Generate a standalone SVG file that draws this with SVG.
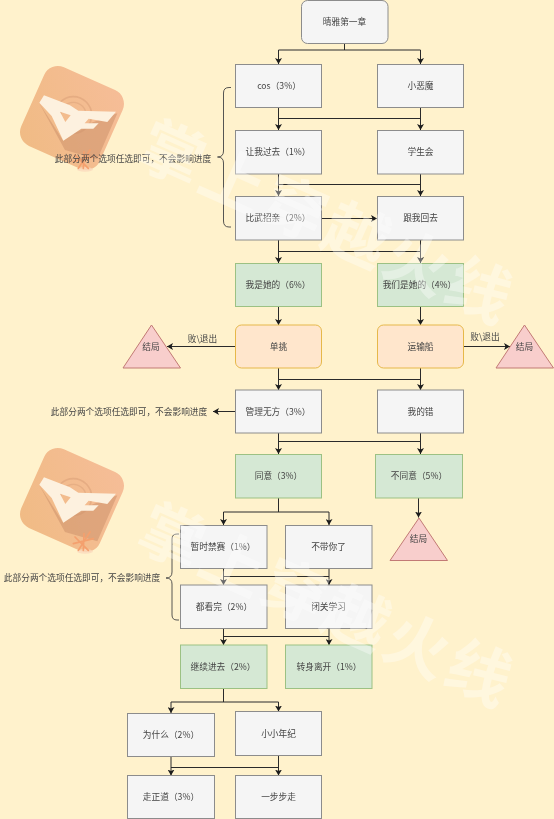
<svg xmlns="http://www.w3.org/2000/svg" width="554" height="819" viewBox="0 0 554 819">
<style>
text{font-family:"Noto Sans CJK SC","Noto Sans",sans-serif;font-size:8.7px;fill:#444;text-anchor:middle}
.n{fill:#f5f5f5;stroke:#8c8c8c;stroke-width:1}
.g{fill:#d5e8d4;stroke:#9cc183;stroke-width:1}
.o{fill:#ffe6cc;stroke:#e6b84a;stroke-width:1}
.t{fill:#f8cecc;stroke:#c27a74;stroke-width:1}
.c{fill:none;stroke:#2b2b2b;stroke-width:1}
.a{marker-end:url(#arrow)}
.b{fill:none;stroke:#444;stroke-width:.9}
.w{font-size:64px;font-weight:700;fill:#fff;fill-opacity:.36}
</style>
<defs>
<marker id="arrow" markerUnits="userSpaceOnUse" markerWidth="7" markerHeight="7" refX="6" refY="3.500" orient="auto"><path d="M0 0L6 3.500L0 7L1.500 3.500Z" fill="#1a1a1a"/></marker>
<linearGradient id="lg" x1="0" y1="1" x2="1" y2="0"><stop offset="0" stop-color="#f0bb84"/><stop offset="1" stop-color="#f6bd98"/></linearGradient>
<filter id="soft" x="0" y="0" width="554" height="819" filterUnits="userSpaceOnUse"><feGaussianBlur stdDeviation="0.3"/></filter>
<g id="logo">
<rect x="29" y="75" width="86" height="86" rx="15" fill="url(#lg)" transform="rotate(24 72 118)"/>
<g transform="translate(10 60) scale(.3333)">
<circle cx="190" cy="165" r="55" fill="none" stroke="#dca27a" stroke-width="5" opacity=".6"/>
<circle cx="190" cy="165" r="38" fill="none" stroke="#dca27a" stroke-width="4" opacity=".5"/>
<path d="M88 130L165 270L262 298L322 160L200 205L160 242Z" fill="#c98e68" opacity=".5"/>
<path d="M88 128L102 106L180 136L205 152L318 155L292 186L236 176L224 190L266 190L250 206L214 206L160 242L125 168ZM150 155L166 186L182 166Z" fill="#fdf1df" fill-rule="evenodd"/>
<ellipse cx="225" cy="328" rx="24" ry="7" fill="#fbd9bd" opacity=".8"/>
<path d="M195 285L235 325M240 270L205 325M190 305L250 290M222 275L220 325" stroke="#f4a06e" stroke-width="5" fill="none" stroke-linecap="round"/>
</g>
</g>
</defs>
<g filter="url(#soft)">
<rect width="554" height="819" fill="#fff2cc"/>
<use href="#logo"/>
<use href="#logo" y="382"/>
<g id="connectors">
<path class="c" d="M344.500 43.500V50M278.500 50H420.500"/>
<path class="c a" d="M278.500 50V64"/><path class="c a" d="M420.500 50V64"/>
<path class="c" d="M278.500 118.500H420.500"/>
<path class="c a" d="M278.500 107.500V130"/><path class="c a" d="M420.500 107.500V130"/>
<path class="c" d="M278.500 184.500H420.500"/>
<path class="c a" d="M278.500 174V196"/><path class="c a" d="M420.500 174V196"/>
<path class="c a" d="M321.500 218.500H377"/>
<path class="c" d="M278.500 251.500H420.500"/>
<path class="c a" d="M278.500 240V263"/><path class="c a" d="M420.500 240V263"/>
<path class="c a" d="M278.500 306.500V325"/><path class="c a" d="M420.500 306.500V325"/>
<path class="c a" d="M235.500 346.500H167"/>
<path class="c a" d="M463.500 346.500H510"/>
<path class="c" d="M278.500 379.500H420.500"/>
<path class="c a" d="M278.500 368V390"/><path class="c a" d="M420.500 368V390"/>
<path class="c a" d="M235.500 411.500H213"/>
<path class="c" d="M278.500 441.500H420.500"/>
<path class="c a" d="M278.500 433V454"/><path class="c a" d="M420.500 433V454"/>
<path class="c a" d="M418.500 498V517.500"/>
<path class="c" d="M278.500 498V512M223.500 512H329"/>
<path class="c a" d="M223.500 512V525"/><path class="c a" d="M329 512V525"/>
<path class="c" d="M223.500 576.500H329"/>
<path class="c a" d="M223.500 568.500V585"/><path class="c a" d="M329 568.500V585"/>
<path class="c" d="M223.500 636.500H329"/>
<path class="c a" d="M223.500 628.500V645"/><path class="c a" d="M329 628.500V645"/>
<path class="c" d="M223.500 688.500V702M171 702H278.500"/>
<path class="c a" d="M171 702V713"/><path class="c a" d="M278.500 702V711.500"/>
<path class="c" d="M171 767.500H278.500"/>
<path class="c a" d="M171 756.500V775.500"/><path class="c a" d="M278.500 755.500V775.500"/>
<path class="b" d="M231 87.500H229Q223.500 87.500 223.500 93V151Q223.500 157 217.500 157Q223.500 157 223.500 163V221Q223.500 227 229 227H231"/>
<path class="b" d="M179 534H177Q172 534 172 539V572Q172 578 166 578Q172 578 172 584V615Q172 620 177 620H179"/>
</g>
<g id="n1"><rect class="n" x="301.500" y=".5" width="86.500" height="43" rx="6"/><text x="344.500" y="25">晴雅第一章</text></g>
<g id="n2"><rect class="n" x="235.500" y="64.500" width="86" height="43"/><text x="279" y="89">cos（3%）</text></g>
<g id="n3"><rect class="n" x="377.500" y="64.500" width="86" height="43"/><text x="420.500" y="89">小恶魔</text></g>
<g id="n4"><rect class="n" x="235.500" y="130.500" width="86" height="43.500"/><text x="278" y="155">让我过去（1%）</text></g>
<g id="n5"><rect class="n" x="377.500" y="130.500" width="86" height="43.500"/><text x="420.500" y="155">学生会</text></g>
<g id="n6"><rect class="n" x="235.500" y="196.500" width="86" height="43.500"/><text x="278" y="221">比武招亲（2%）</text></g>
<g id="n7"><rect class="n" x="377.500" y="196.500" width="86" height="43.500"/><text x="420.500" y="221">跟我回去</text></g>
<g id="n8"><rect class="g" x="235.500" y="263.500" width="86" height="43"/><text x="278" y="288">我是她的（6%）</text></g>
<g id="n9"><rect class="g" x="377.500" y="263.500" width="86" height="43"/><text x="419.500" y="288">我们是她的（4%）</text></g>
<g id="n10"><rect class="o" x="235.500" y="325" width="86" height="43" rx="6"/><text x="278.500" y="350">单挑</text></g>
<g id="n11"><rect class="o" x="377.500" y="325" width="86" height="43" rx="6"/><text x="420.500" y="350">运输船</text></g>
<g id="n12"><path class="t" d="M151.500 325L180.500 368H123Z"/><text x="151" y="350">结局</text></g>
<g id="n13"><path class="t" d="M524.500 325L553.500 368H496Z"/><text x="524.500" y="350">结局</text></g>
<text x="202.500" y="342">败\退出</text>
<text x="485" y="340">败\退出</text>
<g id="n14"><rect class="n" x="235.500" y="390" width="86" height="43"/><text x="278" y="415">管理无方（3%）</text></g>
<g id="n15"><rect class="n" x="377.500" y="390" width="86" height="43"/><text x="420.500" y="415">我的错</text></g>
<text x="129" y="415">此部分两个选项任选即可，不会影响进度</text>
<text x="133" y="161.500">此部分两个选项任选即可，不会影响进度</text>
<text x="82" y="581">此部分两个选项任选即可，不会影响进度</text>
<g id="n16"><rect class="g" x="235.500" y="454.500" width="86" height="43.500"/><text x="278.500" y="479">同意（3%）</text></g>
<g id="n17"><rect class="g" x="375.500" y="454.500" width="87" height="43.500"/><text x="419" y="479">不同意（5%）</text></g>
<g id="n18"><path class="t" d="M419 518L447.500 560.500H390Z"/><text x="418.500" y="542">结局</text></g>
<g id="n19"><rect class="n" x="180.500" y="525.500" width="86.500" height="43"/><text x="223" y="550">暂时禁赛（1%）</text></g>
<g id="n20"><rect class="n" x="285.500" y="525.500" width="86.500" height="43"/><text x="328.500" y="550">不带你了</text></g>
<g id="n21"><rect class="n" x="180.500" y="585" width="86.500" height="43.500"/><text x="224" y="610">都看完（2%）</text></g>
<g id="n22"><rect class="n" x="285.500" y="585" width="86.500" height="43.500"/><text x="328.500" y="610">闭关学习</text></g>
<g id="n23"><rect class="g" x="180.500" y="645" width="86.500" height="43.500"/><text x="223" y="670">继续进去（2%）</text></g>
<g id="n24"><rect class="g" x="285.500" y="645" width="86.500" height="43.500"/><text x="329" y="670">转身离开（1%）</text></g>
<g id="n25"><rect class="n" x="127.500" y="713.500" width="87" height="43"/><text x="171" y="738">为什么（2%）</text></g>
<g id="n26"><rect class="n" x="235.500" y="711.500" width="86" height="44"/><text x="278.500" y="737">小小年纪</text></g>
<g id="n27"><rect class="n" x="127.500" y="775.500" width="87" height="43"/><text x="171" y="800">走正道（3%）</text></g>
<g id="n28"><rect class="n" x="235.500" y="775.500" width="86" height="43"/><text x="278.500" y="800">一步步走</text></g>
<text class="w" transform="translate(316 243) rotate(24)" textLength="400">掌上穿越火线</text>
<text class="w" transform="translate(316 626) rotate(24)" textLength="400">掌上穿越火线</text>
</g>
</svg>
